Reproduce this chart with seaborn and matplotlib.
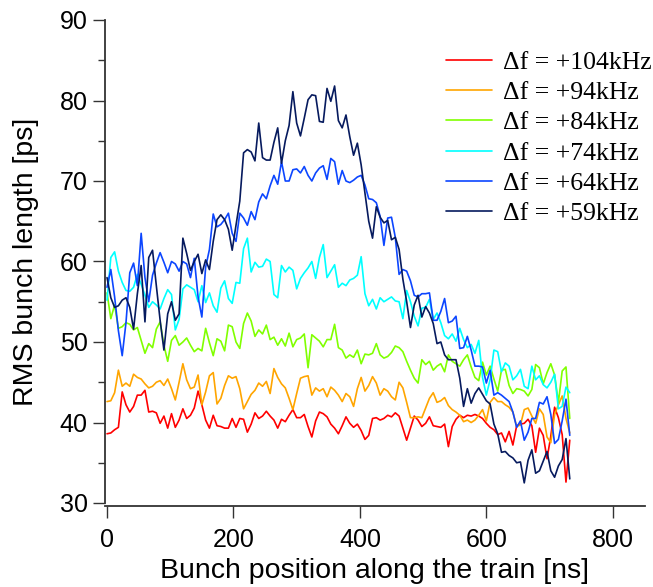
import matplotlib
matplotlib.use("Agg")
import matplotlib.pyplot as plt
from matplotlib.ticker import MultipleLocator
import pandas as pd
import seaborn as sns

position_ns = list(range(0, 733, 6))

series_labels = ["Δf = +104kHz", "Δf = +94kHz", "Δf = +84kHz",
                 "Δf = +74kHz", "Δf = +64kHz", "Δf = +59kHz"]
series_colors = ["#ff0000", "#ffa500", "#80ff00", "#00ffff", "#0c46ff", "#061a5e"]

rms_104 = [38.6, 38.7, 39.1, 39.4, 43.8, 42.2, 41.3, 42.0, 43.4, 43.4,
           44.0, 41.3, 41.4, 41.2, 39.9, 40.8, 39.3, 41.1, 39.4, 40.3,
           41.7, 40.5, 40.9, 41.8, 43.9, 42.2, 40.3, 39.3, 40.9, 39.6,
           39.5, 39.3, 39.3, 40.5, 39.4, 40.5, 40.4, 38.8, 39.8, 41.2,
           40.5, 40.8, 41.4, 40.8, 40.3, 39.3, 40.4, 40.1, 40.9, 41.6,
           40.6, 40.6, 41.0, 39.5, 38.2, 40.2, 41.3, 41.1, 40.7, 39.8,
           39.3, 38.6, 39.6, 40.7, 39.9, 39.4, 39.8, 39.0, 37.9, 38.4,
           40.5, 40.6, 40.3, 40.5, 40.9, 40.7, 41.2, 40.8, 39.3, 37.8,
           39.3, 40.8, 40.3, 39.5, 39.9, 40.7, 39.6, 39.5, 39.4, 39.8,
           37.0, 39.5, 40.4, 40.9, 40.6, 40.9, 40.8, 41.0, 40.8, 40.5,
           39.9, 39.4, 39.1, 38.5, 38.7, 37.6, 38.9, 37.2, 39.6, 39.8,
           39.9, 40.4, 39.6, 36.3, 39.3, 38.4, 35.5, 38.3, 41.9, 40.6,
           38.5, 32.6, 37.8]

rms_94 = [42.6, 42.7, 43.7, 46.5, 44.5, 44.9, 44.5, 46.0, 45.6, 45.4,
          44.8, 44.3, 44.5, 45.0, 45.2, 44.6, 45.4, 44.2, 42.8, 45.0,
          47.3, 45.3, 44.2, 44.4, 45.9, 42.2, 43.8, 45.8, 46.2, 42.3,
          43.0, 44.6, 45.8, 45.5, 45.7, 44.2, 41.7, 42.6, 43.5, 44.0,
          44.9, 44.5, 45.1, 43.6, 46.7, 45.6, 44.8, 44.3, 43.0, 41.6,
          43.6, 45.5, 45.7, 45.8, 43.4, 44.3, 43.9, 44.2, 43.2, 44.4,
          44.0, 43.4, 42.6, 43.6, 43.2, 42.0, 44.2, 45.6, 43.9, 44.6,
          45.7, 44.9, 43.4, 44.2, 43.9, 43.2, 42.8, 45.0, 44.3, 42.5,
          40.6, 40.6, 40.7, 40.6, 41.8, 43.0, 43.7, 42.5, 42.7, 43.1,
          42.1, 41.6, 41.3, 40.9, 40.1, 40.3, 40.0, 40.3, 40.9, 41.6,
          40.2, 42.5, 43.1, 42.6, 42.6, 42.2, 41.9, 41.3, 39.5, 39.7,
          41.6, 41.8, 40.8, 39.9, 41.7, 41.0, 38.2, 37.5, 41.0, 42.2,
          43.3, 40.5, 38.7]

rms_84 = [56.1, 52.9, 54.6, 51.7, 51.9, 52.4, 52.2, 51.5, 51.8, 50.2,
          48.6, 49.8, 49.3, 51.6, 52.5, 49.6, 47.6, 50.2, 50.8, 49.6,
          50.0, 50.5, 49.6, 48.8, 49.2, 48.9, 51.7, 49.9, 48.3, 50.4,
          50.1, 48.9, 52.1, 51.9, 50.0, 49.2, 52.3, 53.6, 52.6, 50.7,
          51.5, 51.0, 52.1, 50.3, 50.6, 49.6, 50.4, 49.5, 51.1, 49.4,
          50.3, 50.5, 51.0, 46.8, 50.9, 50.5, 50.1, 49.4, 50.3, 50.3,
          52.2, 49.3, 49.0, 48.0, 48.4, 48.1, 49.0, 47.3, 48.5, 48.4,
          48.6, 49.8, 48.4, 48.0, 48.2, 48.7, 49.5, 49.3, 48.8, 47.6,
          46.5, 45.5, 44.9, 47.8, 47.2, 47.6, 46.5, 47.0, 47.3, 46.3,
          48.4, 47.6, 47.3, 47.0, 47.8, 48.4, 46.9, 45.6, 45.2, 47.5,
          45.9, 47.0, 45.4, 43.9, 46.5, 46.6, 44.6, 43.6, 44.2, 44.1,
          43.9, 43.3, 44.1, 47.2, 46.8, 44.8, 46.2, 47.3, 45.9, 42.5,
          46.4, 46.9, 40.5]

rms_74 = [55.2, 60.5, 61.2, 58.8, 57.4, 56.4, 56.3, 56.8, 58.4, 57.2,
          55.8, 54.3, 55.0, 54.6, 54.1, 55.4, 56.5, 55.9, 51.5, 52.8,
          56.6, 57.1, 56.8, 56.5, 55.0, 57.0, 54.9, 56.1, 54.5, 53.7,
          56.7, 57.6, 55.4, 54.8, 57.4, 57.3, 61.6, 62.9, 58.7, 59.9,
          59.3, 59.4, 60.3, 60.0, 55.9, 55.5, 59.5, 58.7, 59.3, 58.9,
          56.6, 57.9, 58.6, 59.2, 60.0, 57.9, 60.5, 62.1, 58.0, 58.8,
          59.6, 56.8, 57.3, 57.0, 57.7, 57.9, 58.3, 60.6, 56.0, 54.5,
          55.3, 54.1, 55.5, 55.0, 55.3, 55.6, 55.1, 55.0, 52.9, 56.4,
          55.0, 53.2, 52.0, 54.2, 54.3, 55.3, 52.8, 53.6, 52.4, 50.8,
          50.4, 51.0, 50.1, 51.7, 50.3, 49.3, 49.7, 48.6, 50.2, 45.6,
          43.4, 45.3, 49.0, 48.8, 46.3, 47.4, 47.0, 45.3, 45.8, 46.6,
          44.5, 44.2, 47.0, 45.3, 45.8, 44.7, 44.3, 45.0, 46.0, 41.7,
          42.0, 44.4, 43.7]

rms_64 = [56.8, 59.0, 55.6, 51.4, 48.3, 52.4, 58.6, 59.8, 57.0, 63.5,
          58.0, 55.0, 58.3, 59.8, 61.1, 59.9, 58.6, 60.0, 59.7, 58.8,
          60.0, 59.7, 58.0, 60.4, 55.6, 53.1, 59.3, 61.5, 65.9, 64.3,
          64.6, 65.2, 66.0, 63.5, 62.5, 66.0, 65.4, 64.5, 66.2, 65.2,
          67.4, 68.4, 67.8, 69.4, 70.7, 69.6, 72.4, 70.0, 70.0, 71.4,
          71.5, 71.0, 71.8, 70.7, 70.0, 71.0, 71.6, 71.9, 70.2, 72.8,
          72.4, 69.6, 71.3, 70.0, 69.8, 70.1, 70.5, 70.7, 69.5, 67.8,
          67.7, 67.3, 65.6, 62.0, 65.4, 65.5, 63.0, 58.4, 59.0, 58.8,
          57.6, 55.8, 55.6, 56.0, 56.0, 56.1, 52.7, 52.7, 53.8, 55.4,
          52.4, 52.6, 53.2, 49.2, 49.3, 50.7, 49.0, 47.0, 47.0, 46.9,
          44.9, 46.5, 43.4, 43.7, 43.4, 43.0, 42.6, 41.3, 39.4, 40.2,
          37.8, 38.8, 40.5, 40.5, 42.5, 42.3, 43.2, 41.0, 37.4, 37.9,
          40.2, 42.9, 38.4]

rms_59 = [58.0, 55.5, 54.3, 54.5, 55.2, 55.5, 54.3, 51.6, 56.0, 59.5,
          52.5, 60.5, 61.4, 57.0, 52.7, 49.0, 53.5, 55.0, 52.7, 53.5,
          62.9, 61.0, 58.9, 60.0, 60.9, 58.5, 60.2, 59.0, 62.5, 65.2,
          65.8, 65.2, 64.0, 61.4, 64.5, 67.5, 73.5, 73.9, 73.6, 72.5,
          77.2, 72.9, 72.6, 72.6, 74.8, 76.6, 72.2, 75.0, 76.9, 81.1,
          77.2, 75.6, 77.8, 80.1, 80.7, 80.6, 77.4, 77.3, 81.5, 79.9,
          81.8, 77.5, 76.6, 78.2, 75.5, 73.2, 74.7, 72.0, 68.5, 65.0,
          62.9, 66.8, 65.5, 64.8, 65.1, 62.7, 63.0, 61.5, 57.8, 55.0,
          51.8, 54.6, 55.8, 53.1, 54.4, 53.6, 52.3, 49.8, 50.0, 48.4,
          47.8, 47.8, 47.8, 45.5, 42.0, 44.2, 42.4, 43.6, 44.3, 43.5,
          42.7, 42.3, 39.8, 38.6, 36.3, 36.4, 35.9, 35.6, 35.0, 35.1,
          32.5, 35.3, 36.6, 33.7, 34.0, 35.2, 36.4, 34.0, 33.2, 34.6,
          35.4, 38.0, 33.0]

all_series = [rms_104, rms_94, rms_84, rms_74, rms_64, rms_59]

frames = []
for lab, vals in zip(series_labels, all_series):
    frames.append(pd.DataFrame({"pos": position_ns, "rms": vals, "series": lab}))
df = pd.concat(frames, ignore_index=True)

sns.set_style("ticks")
plt.rcParams["font.family"] = ["Liberation Sans", "DejaVu Sans"]
plt.rcParams["text.color"] = "black"
plt.rcParams["axes.labelcolor"] = "black"

W, H = 653, 587
fig = plt.figure(figsize=(W / 100, H / 100), dpi=100)
ax = fig.add_axes([105 / W, 1 - 503 / H, (645 - 105) / W, (503 - 20) / H])

sns.lineplot(data=df, x="pos", y="rms", hue="series", hue_order=series_labels,
             palette=dict(zip(series_labels, series_colors)), estimator=None,
             sort=False, linewidth=1.2, ax=ax, legend=True)

ax.set_xlim(-3.2, 851)
ax.set_ylim(30, 90)
ax.set_xticks([0, 200, 400, 600, 800])
ax.set_yticks([30, 40, 50, 60, 70, 80, 90])
ax.yaxis.set_minor_locator(MultipleLocator(5))

for s in ["top", "right"]:
    ax.spines[s].set_visible(False)
for s in ["left", "bottom"]:
    ax.spines[s].set_linewidth(1.3)
    ax.spines[s].set_color("#333333")
ax.spines["bottom"].set_position(("outward", 2))

ax.tick_params(axis="both", which="major", direction="out", length=8.5, width=1.0,
               color="#333333", labelsize=18, labelcolor="black")
ax.tick_params(axis="x", which="major", pad=7.5)
ax.tick_params(axis="y", which="major", pad=4)
ax.tick_params(axis="y", which="minor", direction="out", length=5, width=1.0,
               color="#333333")

ax.set_xlabel("Bunch position along the train [ns]", fontsize=20.5, labelpad=4.5,
              color="black")
ax.set_ylabel("RMS bunch length [ps]", fontsize=20.5, labelpad=15, color="black")

handles, labs = ax.get_legend_handles_labels()
leg = ax.legend(handles, labs, loc="upper left",
                bbox_to_anchor=(446 / W, 1 - 51 / H), bbox_transform=fig.transFigure,
                frameon=False, prop={"family": "Liberation Serif", "size": 18.5},
                handlelength=1.8, handletextpad=0.42, labelspacing=0.28,
                borderpad=0, borderaxespad=0)
for text in leg.get_texts():
    text.set_color("black")
for line in leg.get_lines():
    line.set_linewidth(1.2)

fig.savefig("out.png", dpi=100)
